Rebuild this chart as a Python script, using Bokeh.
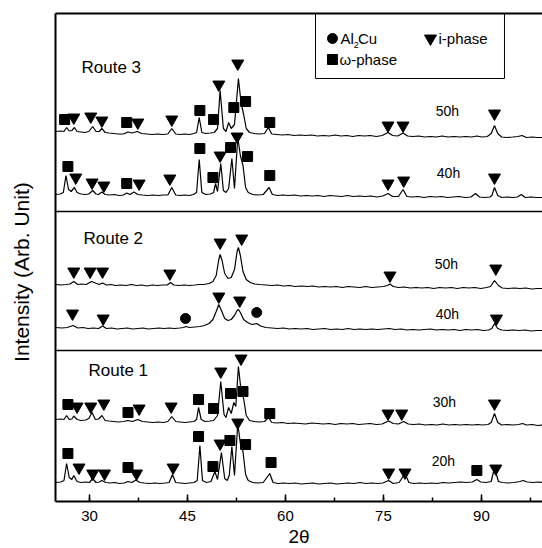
from bokeh.plotting import figure
from bokeh.models import Range1d, LinearAxis, SingleIntervalTicker, FixedTicker, Span, Title
from bokeh.embed import file_html
from bokeh.resources import INLINE
from bokeh.core.properties import value

FONT = "Liberation Sans"

# ---------------- data: (2theta, intensity above the pattern's baseline) ----------------
r3_50h = [(24.8, 3), (25.6, 3.5), (26.1, 3), (26.5, 7), (26.9, 3.5), (27.3, 4), (27.7, 7), (28.1, 3), (28.7, 2.5),
          (29.3, 2), (29.9, 3), (30.5, 8), (31.0, 3), (31.5, 3), (31.9, 6), (32.4, 2), (33.0, 1.5), (33.7, 1),
          (34.4, 0.5), (35.2, 0.5), (35.9, 2.5), (36.5, 1.5), (37.3, 3), (38.0, 1), (38.8, 0.5), (39.6, 0),
          (40.4, 0.5), (41.2, 0), (42.0, 0.5), (42.6, 6), (43.2, 0.5), (43.9, 0), (44.6, 0.5), (45.3, 0),
          (46.0, 1), (46.4, 2), (46.8, 17), (47.2, 2), (47.8, 1), (48.5, 1.5), (49.1, 2), (49.6, 6), (50.0, 44),
          (50.5, 6), (50.9, 3), (51.3, 12), (51.7, 6), (52.2, 10), (52.8, 56), (53.2, 32), (53.6, 20), (54.0, 6),
          (54.5, 2), (55.2, 1), (56.0, 0.5), (56.8, 1), (57.4, 7), (57.9, 0.5), (58.7, 0), (59.5, -0.5),
          (60.4, 0), (61.3, -1), (62.2, -0.5), (63.1, -1), (64.0, -0.5), (64.9, -1.5), (65.8, -1), (66.7, -1.5),
          (67.6, -0.5), (68.5, -1.5), (69.4, -1), (70.3, -2), (71.2, -1), (72.1, -1.5), (73.0, -1), (73.9, -2),
          (74.8, -1), (75.7, 2), (76.4, -1), (77.2, -1.5), (78.0, 1.5), (78.7, -1.5), (79.5, -2), (80.4, -1.5),
          (81.3, -2.5), (82.2, -2), (83.1, -2.5), (84.0, -1.5), (84.9, -2.5), (85.8, -2), (86.7, -2.5),
          (87.6, -2), (88.5, -2.5), (89.3, -1.5), (90.1, -2.5), (90.9, -2), (91.5, 1), (92.0, 9), (92.5, 1),
          (93.1, -2.5), (93.9, -3), (94.8, -2.5), (95.6, -2), (96.2, -1), (96.9, -3), (97.8, -2.5), (98.6, -3),
          (99.4, -3)]

r3_40h = [(24.8, 1), (25.5, 1.5), (26.0, 3), (26.4, 20), (26.8, 6), (27.2, 4), (27.7, 8), (28.1, 3), (28.7, 1.5),
          (29.3, 1), (29.9, 1.5), (30.5, 5), (31.0, 1.5), (31.4, 1), (31.9, 3.5), (32.4, 1), (33.1, 0.5),
          (33.8, 1), (34.5, 0), (35.2, 0.5), (35.7, 2.5), (36.2, 1), (36.8, 3.5), (37.4, 1), (38.1, 0.5),
          (38.9, 0), (39.7, 0.5), (40.5, 0), (41.3, 0.5), (42.0, 0.5), (42.6, 8), (43.2, 0.5), (43.9, 0),
          (44.6, 0.5), (45.3, 0), (45.9, 1), (46.4, 3), (46.8, 36), (47.2, 3), (47.8, 1), (48.5, 1.5), (49.0, 3),
          (49.3, 12), (49.6, 4), (50.1, 32), (50.5, 5), (50.9, 3), (51.3, 7), (51.8, 37), (52.2, 7), (52.7, 58),
          (53.1, 40), (53.5, 30), (53.9, 8), (54.3, 3), (55.0, 1), (55.8, 0.5), (56.6, 1), (57.5, 8), (58.0, 1),
          (58.8, 0), (59.6, 0.5), (60.5, 0), (61.4, 0.5), (62.3, -0.5), (63.2, 0), (64.1, -0.5), (65.0, 0),
          (65.9, -1), (66.8, 0), (67.7, -0.5), (68.6, -1), (69.5, 0), (70.4, -1), (71.3, -0.5), (72.2, -1),
          (73.1, -0.5), (74.0, -1.5), (74.9, -0.5), (75.7, 2), (76.4, -1), (77.3, -1), (78.0, 6), (78.6, -1),
          (79.4, -1.5), (80.3, -1), (81.2, -2), (82.1, -1), (83.0, -1.5), (83.9, -1), (84.8, -2), (85.7, -1.5),
          (86.6, -1), (87.5, -2), (88.4, -1.5), (89.1, 2), (89.7, -1.5), (90.5, -2), (91.3, -1.5), (91.6, 0),
          (92.0, 8), (92.5, 0), (93.1, -2), (93.9, -1.5), (94.8, -2), (95.5, -1.5), (96.1, 1), (96.7, -2),
          (97.6, -1.5), (98.5, -2), (99.4, -2)]

r2_50h = [(24.8, 1), (25.7, 0.5), (26.4, 1), (27.0, 1.5), (27.6, 4), (28.2, 1), (28.8, 1.5), (29.5, 1), (30.3, 4),
          (30.9, 2.5), (31.5, 1), (32.0, 2.5), (32.6, 0.5), (33.3, 1), (34.0, 0), (34.8, 0.5), (35.6, 0),
          (36.4, 1), (37.2, 0), (38.0, 0.5), (38.8, -0.5), (39.6, 0.5), (40.4, 0), (41.2, 0.5), (41.9, 0.5),
          (42.4, 3), (42.9, 0.5), (43.7, 0), (44.5, 0.5), (45.3, 0), (46.1, 0.5), (46.8, 1), (47.5, 1),
          (48.3, 2), (48.9, 4), (49.4, 10), (49.8, 26), (50.0, 31), (50.3, 25), (50.7, 12), (51.2, 7),
          (51.7, 8), (52.2, 16), (52.6, 34), (52.8, 38), (53.1, 30), (53.5, 14), (54.0, 6), (54.6, 3),
          (55.3, 1.5), (56.1, 1), (57.0, 0.5), (57.9, 0), (58.8, 0.5), (59.7, -0.5), (60.6, 0), (61.5, -1),
          (62.4, -0.5), (63.3, -1), (64.2, -0.5), (65.1, -1.5), (66.0, -1), (66.9, -1.5), (67.8, -1),
          (68.7, -2), (69.6, -1), (70.5, -1.5), (71.4, -2), (72.3, -1), (73.2, -2), (74.1, -1.5), (75.0, -1),
          (75.6, 0), (76.0, 1.5), (76.5, -1), (77.3, -2), (78.2, -1.5), (79.1, -2.5), (80.0, -2), (80.9, -2.5),
          (81.8, -2), (82.7, -3), (83.6, -2), (84.5, -2.5), (85.4, -2), (86.3, -3), (87.2, -2), (88.1, -2.5),
          (89.0, -2), (89.9, -3), (90.8, -2), (91.4, -1), (92.0, 5), (92.6, 0), (93.2, -2.5), (94.1, -3),
          (95.0, -2.5), (95.9, -3), (96.8, -2.5), (97.7, -3.5), (98.6, -3), (99.4, -3)]

r2_40h = [(24.8, 1), (25.8, 0.5), (26.6, 1), (27.5, 3), (28.2, 0.5), (29.0, 1), (29.8, 0), (30.6, 0.5), (31.4, 0),
          (32.0, 2.5), (32.6, 0), (33.4, 0.5), (34.2, -0.5), (35.0, 0), (35.8, 0.5), (36.6, -0.5), (37.4, 0),
          (38.2, 0.5), (39.0, -0.5), (39.8, 0), (40.6, 0.5), (41.4, 0), (42.2, 0.5), (43.0, 0), (43.8, 0.5),
          (44.4, 1), (44.8, 2), (45.3, 1), (46.1, 1.5), (46.9, 2), (47.6, 3), (48.3, 5), (48.9, 9), (49.4, 17),
          (49.8, 24), (50.2, 18), (50.7, 10), (51.2, 8), (51.7, 9), (52.2, 13), (52.6, 18), (52.8, 19),
          (53.1, 16), (53.6, 9), (54.2, 6), (54.9, 4), (55.6, 5), (56.2, 2.5), (57.0, 1), (57.9, 0.5), (58.8, 0),
          (59.7, 0.5), (60.6, -0.5), (61.5, 0), (62.4, -0.5), (63.3, 0), (64.2, -1), (65.1, -0.5), (66.0, 0),
          (66.9, -1), (67.8, -0.5), (68.7, -1), (69.6, 0), (70.5, -1), (71.4, -0.5), (72.3, -1), (73.2, -0.5),
          (74.1, -1), (75.0, -0.5), (75.9, 0), (76.8, -1), (77.7, -0.5), (78.6, -1.5), (79.5, -1), (80.4, -1.5),
          (81.3, -1), (82.2, -0.5), (83.1, -1.5), (84.0, -1), (84.9, -1.5), (85.8, -1), (86.7, -2), (87.6, -1),
          (88.5, -1.5), (89.4, -1), (90.3, -2), (91.1, -1.5), (91.6, 0), (92.0, 5), (92.5, 0), (93.1, -1.5),
          (94.0, -2), (94.9, -1.5), (95.8, -2), (96.7, -1.5), (97.6, -2.5), (98.5, -2), (99.4, -2)]

r1_30h = [(24.8, 3), (25.6, 3.5), (26.1, 3), (26.5, 7), (26.9, 3), (27.3, 3.5), (27.6, 6.5), (28.1, 3), (28.7, 2),
          (29.4, 2.5), (29.9, 4), (30.4, 10), (30.9, 3), (31.4, 3.5), (31.9, 7), (32.4, 2), (33.0, 1.5),
          (33.7, 1), (34.4, 0.5), (35.2, 1), (35.9, 2), (36.6, 1), (37.4, 3), (38.1, 1), (38.9, 0.5), (39.7, 0),
          (40.5, 0.5), (41.3, 0), (42.0, 1), (42.6, 6), (43.2, 1), (43.9, 0.5), (44.6, 0), (45.3, 0.5), (46.0, 1),
          (46.4, 3), (46.7, 15), (47.1, 3), (47.7, 1), (48.4, 1.5), (49.0, 2), (49.6, 7), (50.1, 41), (50.6, 8),
          (50.9, 5), (51.3, 15), (51.7, 9), (52.1, 20), (52.4, 16), (52.8, 56), (53.2, 32), (53.6, 24), (54.0, 7),
          (54.5, 2), (55.2, 1), (56.0, 0.5), (56.8, 1), (57.4, 5), (57.9, 0), (58.7, -0.5), (59.5, 0),
          (60.4, -1), (61.3, -0.5), (62.2, -1), (63.1, -1.5), (64.0, -0.5), (64.9, -1), (65.8, -1.5),
          (66.7, -1), (67.6, -2), (68.5, -1), (69.4, -1.5), (70.3, -1), (71.2, -2), (72.1, -1.5), (73.0, -1),
          (73.9, -2), (74.8, -1.5), (75.8, 1.5), (76.5, -1), (77.3, -1.5), (78.1, 1), (78.8, -1.5), (79.6, -2),
          (80.5, -1.5), (81.4, -2.5), (82.3, -2), (83.2, -2.5), (84.1, -1.5), (85.0, -2.5), (85.9, -2),
          (86.8, -2.5), (87.7, -2), (88.6, -2.5), (89.4, -2), (90.2, -2.5), (91.0, -2), (91.5, 0), (92.0, 9),
          (92.5, 0), (93.1, -2.5), (93.9, -2), (94.8, -2.5), (95.7, -2), (96.3, -1), (96.9, -2.5), (97.8, -2),
          (98.6, -3), (99.4, -2.5)]

r1_20h = [(24.8, 1), (25.6, 1.5), (26.1, 3), (26.5, 20), (26.9, 6), (27.3, 4), (27.6, 8), (28.1, 2), (28.7, 1),
          (29.4, 1.5), (30.0, 1), (30.5, 5), (31.0, 1), (31.5, 1.5), (31.9, 3), (32.5, 1), (33.2, 0.5),
          (33.9, 1), (34.6, 0), (35.3, 0.5), (35.9, 2), (36.5, 1), (37.1, 3.5), (37.7, 1), (38.4, 0.5),
          (39.2, 0), (40.0, 0.5), (40.8, 0), (41.6, 0.5), (42.2, 1), (42.7, 9), (43.2, 1), (43.9, 0.5), (44.6, 0),
          (45.3, 0.5), (46.0, 1), (46.5, 3), (46.9, 38), (47.3, 3), (47.9, 1), (48.6, 2), (49.2, 12), (49.6, 4),
          (50.2, 31), (50.7, 5), (51.1, 3), (51.4, 8), (51.8, 37), (52.2, 8), (52.7, 60), (53.1, 40), (53.5, 32),
          (53.9, 9), (54.3, 3), (55.0, 1), (55.8, 0.5), (56.6, 1), (57.6, 10), (58.1, 1), (58.9, 0), (59.7, 0.5),
          (60.6, 0), (61.5, 0.5), (62.4, -0.5), (63.3, 0), (64.2, 0.5), (65.1, -0.5), (66.0, 0), (66.9, 0.5),
          (67.8, -0.5), (68.7, 0), (69.6, 0.5), (70.5, 0), (71.4, 1), (72.3, 0), (73.2, 0.5), (74.1, 0),
          (74.9, 0.5), (75.8, 3), (76.5, 0), (77.4, 1), (78.3, 10), (78.9, 1), (79.6, 0), (80.5, 0.5), (81.4, 0),
          (82.3, 0.5), (83.2, 0), (84.1, 1), (85.0, 0.5), (85.9, 1), (86.8, 1.5), (87.7, 1), (88.6, 1.5),
          (89.3, 4), (89.9, 1.5), (90.7, 1), (91.5, 2), (92.0, 16), (92.6, 2), (93.2, 1), (94.1, 0.5), (95.0, 1),
          (95.9, 2), (96.4, 3), (97.0, 1.5), (97.9, 1), (98.7, 1.5), (99.4, 1)]

# vertical stacking offset of each pattern (arb. units)
offsets = {"r3_50h": 367, "r3_40h": 306, "r2_50h": 216, "r2_40h": 173, "r1_30h": 79, "r1_20h": 18}
patterns = {"r3_50h": r3_50h, "r3_40h": r3_40h, "r2_50h": r2_50h, "r2_40h": r2_40h, "r1_30h": r1_30h, "r1_20h": r1_20h}
time_labels = {"r3_50h": "50h", "r3_40h": "40h", "r2_50h": "50h", "r2_40h": "40h", "r1_30h": "30h", "r1_20h": "20h"}
route_names = ["Route 3", "Route 2", "Route 1"]
route_dividers = [290, 151]

# phase markers: (2theta, height above baseline, phase)   t = i-phase, s = omega-phase, c = Al2Cu
marks = {
    "r3_50h": [(26.2, 15, "s"), (27.6, 17, "t"), (30.2, 18, "t"), (31.9, 14, "t"), (35.7, 12, "s"), (37.4, 12, "t"),
               (42.6, 15, "t"), (46.9, 24, "s"), (49.0, 15, "s"), (49.8, 50, "t"), (52.1, 27, "s"), (52.7, 71, "t"),
               (53.9, 33, "s"), (57.6, 12, "s"), (75.7, 9, "t"), (78.0, 9, "t"), (92.0, 21, "t")],
    "r3_40h": [(26.7, 29, "s"), (27.9, 18, "t"), (30.4, 13, "t"), (32.2, 10, "t"), (35.7, 12, "s"), (37.6, 12, "t"),
               (42.3, 17, "t"), (46.9, 47, "s"), (48.9, 18, "s"), (50.0, 40, "t"), (51.6, 48, "s"), (52.6, 59, "t"),
               (54.2, 39, "s"), (57.6, 20, "s"), (75.7, 12, "t"), (78.1, 15, "t"), (92.0, 18, "t")],
    "r2_50h": [(27.6, 14, "t"), (30.1, 14, "t"), (32.0, 14, "t"), (42.3, 12, "t"), (50.0, 43, "t"), (53.3, 47, "t"),
               (76.0, 10, "t"), (92.2, 17, "t")],
    "r2_40h": [(27.4, 15, "t"), (32.1, 10, "t"), (44.7, 10, "c"), (49.8, 32, "t"), (53.0, 28, "t"), (55.6, 16, "c"),
               (92.3, 10, "t")],
    "r1_30h": [(26.7, 18, "s"), (28.1, 16, "t"), (30.2, 16, "t"), (32.2, 19, "t"), (35.9, 10, "s"), (37.6, 14, "t"),
               (42.5, 16, "t"), (46.7, 23, "s"), (49.0, 14, "s"), (50.1, 51, "t"), (51.6, 29, "s"), (53.5, 31, "s"),
               (53.2, 64, "t"), (57.6, 9, "s"), (75.7, 9, "t"), (77.8, 9, "t"), (92.0, 19, "t")],
    "r1_20h": [(26.7, 30, "s"), (28.4, 16, "t"), (30.5, 10, "t"), (32.3, 10, "t"), (35.9, 16, "s"), (37.2, 10, "t"),
               (42.8, 16, "t"), (46.7, 47, "s"), (48.9, 17, "s"), (50.0, 40, "t"), (51.5, 43, "s"), (52.7, 61, "t"),
               (53.9, 39, "s"), (57.8, 21, "s"), (75.8, 11, "t"), (78.3, 11, "t"), (89.3, 13, "s"), (92.2, 15, "t")],
}
x_tick_interval = 15

# ---------------- figure ----------------
p = figure(width=542, height=548, x_range=Range1d(24.8, 99.35), y_range=Range1d(0, 488),
           output_backend="svg", toolbar_location=None,
           min_border_left=55, min_border_right=0, min_border_top=13, min_border_bottom=47)
p.outline_line_color = None
p.xgrid.visible = False
p.ygrid.visible = False
p.background_fill_color = "white"
p.border_fill_color = "white"

xa = p.xaxis[0]
xa.ticker = SingleIntervalTicker(interval=x_tick_interval, num_minor_ticks=2)
xa.axis_line_width = 2
xa.axis_line_color = "black"
xa.major_tick_in = 7
xa.major_tick_out = 0
xa.major_tick_line_width = 1.5
xa.minor_tick_in = 4
xa.minor_tick_out = 0
xa.minor_tick_line_width = 1.5
xa.major_label_text_font = FONT
xa.major_label_text_font_size = "15px"
xa.major_label_text_color = "black"
xa.major_label_standoff = 9

ya = p.yaxis[0]
ya.ticker = FixedTicker(ticks=[])
ya.axis_line_width = 2
ya.axis_line_color = "black"
ya.major_tick_line_color = None
ya.minor_tick_line_color = None
ya.major_label_standoff = 0
ya.axis_label = "Intensity (Arb. Unit)" + "\u00a0" * 5
ya.axis_label_text_font = FONT
ya.axis_label_text_font_size = "21px"
ya.axis_label_text_font_style = "normal"
ya.axis_label_text_color = "black"
ya.axis_label_standoff = 23

top = LinearAxis(ticker=FixedTicker(ticks=[]), axis_line_width=2, axis_line_color="black",
                 major_tick_line_color=None, minor_tick_line_color=None)
p.add_layout(top, "above")

xtitle = Title(text="2\u03b8", align="center", offset=6, standoff=0, text_font=FONT,
               text_font_size="19px", text_font_style="normal", text_color="black")
p.add_layout(xtitle, "below")

for loc in route_dividers:
    p.add_layout(Span(location=loc, dimension="width", line_color="black", line_width=1.5))

for key, pts in patterns.items():
    off = offsets[key]
    xs = [a for a, b in pts]
    ys = [b + off for a, b in pts]
    p.line(xs, ys, line_color="black", line_width=1.2)

tx, ty, sx, sy, cx, cy = [], [], [], [], [], []
for key, lst in marks.items():
    off = offsets[key]
    for a, h, kind in lst:
        if kind == "t":
            tx.append(a); ty.append(h + off)
        elif kind == "s":
            sx.append(a); sy.append(h + off)
        else:
            cx.append(a); cy.append(h + off)

p.scatter(tx, ty, marker="inverted_triangle", size=12, color="black")
p.scatter(sx, sy, marker="square", size=10, color="black")
p.scatter(cx, cy, marker="circle", size=10, color="black")

# time labels
lab_x = {"r3_50h": 84.8, "r3_40h": 84.96, "r2_50h": 84.65, "r2_40h": 84.8, "r1_30h": 84.34, "r1_20h": 84.19}
lab_dy = {"r3_50h": 24, "r3_40h": 23, "r2_50h": 22, "r2_40h": 15, "r1_30h": 21, "r1_20h": 23}
p.text([lab_x[k] for k in patterns], [offsets[k] + lab_dy[k] for k in patterns],
       text=[time_labels[k] for k in patterns], text_font=value(FONT), text_font_size="14px",
       text_align="center", text_baseline="middle", text_color="black")

# route names
p.text([28.78, 29.09, 29.85], [434, 263, 131], text=route_names, text_font=value(FONT),
       text_font_size="17px", text_align="left", text_baseline="middle", text_color="black")

# legend box
p.quad(left=[64.6], right=[93.53], bottom=[423], top=[488], fill_color="white", line_color="black", line_width=1)
p.scatter([67.2], [463], marker="circle", size=10, color="black")
p.scatter([82.2], [463], marker="inverted_triangle", size=12, color="black")
p.scatter([67.2], [442], marker="square", size=10, color="black")
p.text([68.42, 71.1, 83.43, 68.27], [463, 463, 463, 442], text=["Al", "Cu", "i-phase", "\u03c9-phase"],
       text_font=value(FONT), text_font_size="15px", text_align="left", text_baseline="middle", text_color="black")
p.text([70.45], [457], text=["2"], text_font=value(FONT), text_font_size="9px",
       text_align="left", text_baseline="middle", text_color="black")

open("out.html", "w").write(file_html(p, INLINE))
